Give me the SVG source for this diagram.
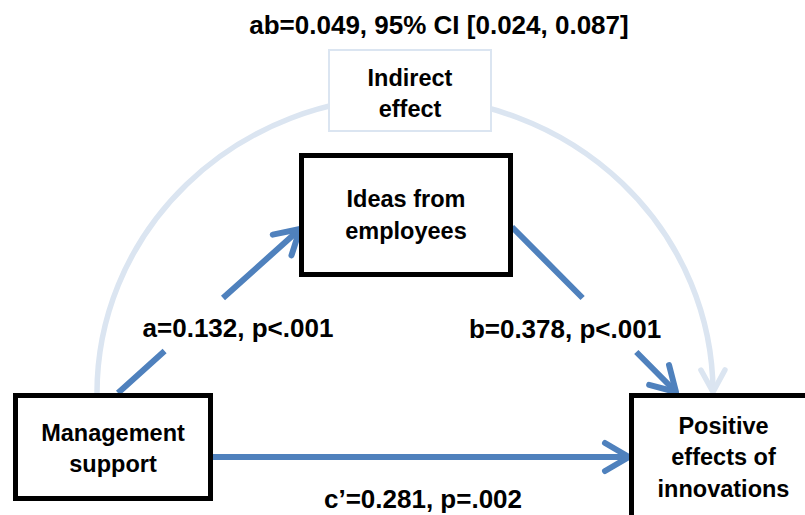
<svg xmlns="http://www.w3.org/2000/svg" width="805" height="515" viewBox="0 0 805 515">
  <style>
    .box { fill: #ffffff; stroke: #000000; stroke-width: 5; }
    .light { fill: #ffffff; stroke: #dbe5f1; stroke-width: 2; }
    .node { font-family: "Liberation Sans", Arial, sans-serif; font-weight: bold; font-size: 23.5px; fill: #000; text-anchor: middle; }
    .lbl { font-family: "Liberation Sans", Arial, sans-serif; font-weight: bold; font-size: 26px; fill: #000; text-anchor: middle; }
    .blue { fill: none; stroke: #4f81bd; stroke-width: 6; }
    .arc { fill: none; stroke: #dbe5f1; stroke-width: 5.5; }
  </style>
  <defs>
    <marker id="ah-blue" markerUnits="userSpaceOnUse" viewBox="-30 -20 40 40" refX="0" refY="0" markerWidth="40" markerHeight="40" orient="auto" overflow="visible">
      <path d="M-24,-14 L0,0 L-24,14" fill="none" stroke="#4f81bd" stroke-width="6" stroke-linecap="round" stroke-linejoin="round"/>
    </marker>
    <marker id="ah-light" markerUnits="userSpaceOnUse" viewBox="-30 -20 40 40" refX="0" refY="0" markerWidth="40" markerHeight="40" orient="auto" overflow="visible">
      <path d="M-22,-12 L0,0 L-22,12" fill="none" stroke="#dbe5f1" stroke-width="5.5" stroke-linecap="round" stroke-linejoin="round"/>
    </marker>
  </defs>

  <rect width="805" height="515" fill="#ffffff"/>

  <g id="connectors">
    <path id="indirect-arc" class="arc" d="M97,394 A308,296 0 0 1 713,392" marker-end="url(#ah-light)"/>
    <path id="path-a" class="blue" d="M118,393 L164.6,351 M223,298 L300,229" marker-end="url(#ah-blue)"/>
    <path id="path-b" class="blue" d="M512,227 L582.6,298 M636.3,352 L676,392" marker-end="url(#ah-blue)"/>
    <path id="path-c" class="blue" d="M213,457 L629,457" marker-end="url(#ah-blue)"/>
  </g>

  <text class="lbl" x="439" y="34">ab=0.049, 95% CI [0.024, 0.087]</text>
  <text class="lbl" x="238" y="337">a=0.132, p&lt;.001</text>
  <text class="lbl" x="565" y="338">b=0.378, p&lt;.001</text>
  <text class="lbl" x="423" y="508">c’=0.281, p=.002</text>

  <g id="indirect-effect">
    <rect class="light" x="329" y="50" width="162" height="81"/>
    <text class="node" x="410" y="86">Indirect</text>
    <text class="node" x="410" y="117">effect</text>
  </g>

  <g id="ideas-from-employees">
    <rect class="box" x="301.5" y="155.5" width="209" height="119"/>
    <text class="node" x="406" y="207">Ideas from</text>
    <text class="node" x="406" y="239">employees</text>
  </g>

  <g id="management-support">
    <rect class="box" x="15.5" y="395.5" width="195" height="103"/>
    <text class="node" x="113" y="441">Management</text>
    <text class="node" x="113" y="472">support</text>
  </g>

  <g id="positive-effects">
    <rect class="box" x="631.5" y="395.5" width="200" height="150"/>
    <text class="node" x="723.5" y="434">Positive</text>
    <text class="node" x="723.5" y="465">effects of</text>
    <text class="node" x="723.5" y="497">innovations</text>
  </g>
</svg>
